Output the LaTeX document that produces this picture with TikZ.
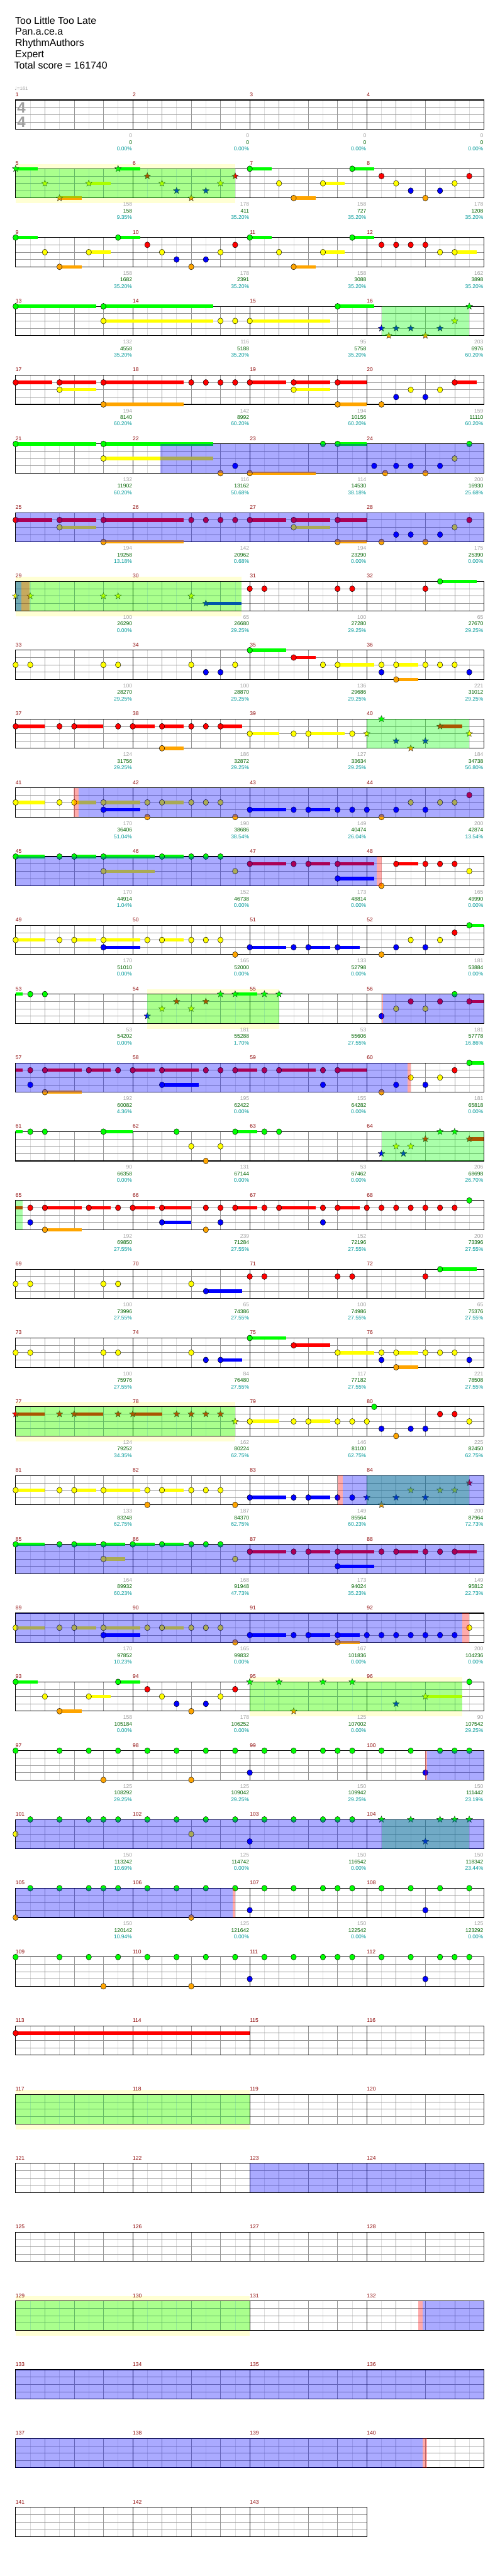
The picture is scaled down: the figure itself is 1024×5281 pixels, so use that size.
\documentclass[tikz,border=0pt]{standalone}
\usepackage{fontspec}
\setmainfont{Liberation Sans}
\newfontfamily\djv{DejaVu Sans}
\usetikzlibrary{shapes.geometric}
\definecolor{lc0}{RGB}{0,255,0}
\definecolor{lc1}{RGB}{255,0,0}
\definecolor{lc2}{RGB}{255,255,0}
\definecolor{lc3}{RGB}{0,0,255}
\definecolor{lc4}{RGB}{255,165,0}
\definecolor{ybg}{RGB}{255,255,212}
\definecolor{mred}{RGB}{139,0,0}
\definecolor{sgray}{RGB}{160,160,160}
\definecolor{sgreen}{RGB}{0,100,0}
\definecolor{steal}{RGB}{0,153,153}
\definecolor{geighth}{RGB}{222,222,222}
\definecolor{gquart}{RGB}{150,150,150}
\newcounter{nc}
\tikzset{
 nt/.style={ellipse,draw=black,line width=0.6pt,minimum width=11,minimum height=12,inner sep=0},
 sn/.style={star,star points=5,star point ratio=2.3,draw=black!85,line width=0.5pt,minimum size=14,inner sep=0},
 ge/.style={draw=geighth,line width=0.8pt},
 gq/.style={draw=gquart,line width=0.9pt},
 gm/.style={draw=black,line width=1pt},
 gb/.style={draw=black,line width=1.4pt},
 small/.style={inner sep=0,font=\fontsize{11}{13}\selectfont},
 mnum/.style={small,text=mred,anchor=west},
 sg/.style={small,text=sgray,anchor=east},
 sgr/.style={small,text=sgreen,anchor=east},
 st/.style={small,text=steal,anchor=east},
 ttl/.style={inner sep=0,anchor=base west,font=\fontsize{20.5}{24}\selectfont},
 tsig/.style={inner sep=0,text=sgray,font=\fontsize{31}{31}\selectfont\bfseries}
}
\newcommand\RowStart[3]{\pgfmathsetmacro\T{205+141*#1}\def\MF{#2}\def\NMe{#3}}
\newcommand\Grid{%
 \pgfmathsetmacro\W{240*\NMe}\pgfmathtruncatemacro\NE{8*\NMe}%
 \foreach \k in {1,3,...,\NE}{\draw[ge] ({32+30*\k},\T) -- ({32+30*\k},{\T+60});}%
 \foreach \l in {1,2,3}{\draw[gq] (32,{\T+15*\l}) -- ({32+\W},{\T+15*\l});}%
 \foreach \k in {2,4,...,\NE}{\draw[gq] ({32+30*\k},\T) -- ({32+30*\k},{\T+60});}%
 \foreach \k in {8,16,...,\NE}{\draw[gm] ({32+30*\k},\T) -- ({32+30*\k},{\T+60});}%
 \draw[gb] (32,\T) rectangle ({32+\W},{\T+60});}
\newcommand\Nums{\pgfmathtruncatemacro\LJ{\NMe-1}%
 \foreach \j in {0,...,\LJ}{\pgfmathtruncatemacro\MN{\MF+\j}\node[mnum] (mn\MN) at ({32+240*\j},{\T-11}) {\MN};}}
\newcommand\Nn[2]{\stepcounter{nc}\node[nt,fill=lc#1] (n\arabic{nc}) at ({32+30*#2},{\T+15*#1}) {};}
\newcommand\Ns[3]{\fill[lc#1] ({32+30*#2},{\T+15*#1-3.5}) rectangle ({32+30*#3},{\T+15*#1+3.5});\Nn{#1}{#2}}
\newcommand\Sn[2]{\stepcounter{nc}\node[sn,fill=lc#1] (n\arabic{nc}) at ({32+30*#2},{\T+15*#1}) {};}
\newcommand\Ss[3]{\fill[lc#1] ({32+30*#2},{\T+15*#1-3.5}) rectangle ({32+30*#3},{\T+15*#1+3.5});\Sn{#1}{#2}}
\newcommand\Cb[3]{\fill[lc#1] ({32+30*#2},{\T+15*#1-3.5}) rectangle ({32+30*#3},{\T+15*#1+3.5});}
\newcommand\Og[2]{\fill[green,opacity=0.333] ({32+30*#1},\T) rectangle ({32+30*#2},{\T+60});}
\newcommand\Ob[2]{\fill[blue,opacity=0.333] ({32+30*#1},\T) rectangle ({32+30*#2},{\T+60});}
\newcommand\Op[2]{\fill[red,opacity=0.333] ({32+30*#1},\T) rectangle ({32+30*#2},{\T+60});}
\newcommand\Yl[2]{\fill[ybg] ({32+30*#1},{\T-10}) rectangle ({32+30*#2},{\T+71});}
\newcommand\Sc[4]{\node[sg] (sa\MF-#1) at ({31+240*(#1+1)},{\T+73}) {#2};
 \node[sgr] (sb\MF-#1) at ({31+240*(#1+1)},{\T+86.5}) {#3};
 \node[st] (sc\MF-#1) at ({31+240*(#1+1)},{\T+100}) {#4};}
\begin{document}
\begin{tikzpicture}[x=1pt,y=-1pt]
\useasboundingbox[fill=white] (0,0) rectangle (1024,5281);
\node[ttl] (t1) at (31,49) {Too Little Too Late};
\node[ttl] (t2) at (31,72) {Pan.a.ce.a};
\node[ttl] (t3) at (31,95) {RhythmAuthors};
\node[ttl] (t4) at (31,118) {Expert};
\node[ttl] (t5) at (29,141) {Total score = 161740};
\node[inner sep=0,anchor=west,text=sgray,font=\fontsize{10}{12}\selectfont] (tempo) at (30,181) {{\djv ♩}=161};
% row 0
\RowStart{0}{1}{4}\Grid
\node[tsig] (ts1) at (44,221) {4};
\node[tsig] (ts2) at (44,250) {4};
\Nums
\Sc{0}{0}{0}{0.00\%}\Sc{1}{0}{0}{0.00\%}\Sc{2}{0}{0}{0.00\%}\Sc{3}{0}{0}{0.00\%}
% row 1
\RowStart{1}{5}{4}\Yl{0}{15}\Grid
\Ss{0}{0}{1.5}\Ss{0}{7}{8.5}\Sn{1}{9}\Sn{1}{15}\Sn{2}{2}\Ss{2}{5}{6.5}\Sn{2}{10}\Sn{2}{14}\Sn{3}{11}\Sn{3}{13}\Ss{4}{3}{4.5}\Sn{4}{12}
\Ns{0}{16}{17.5}\Ns{0}{23}{24.5}\Nn{1}{25}\Nn{1}{31}\Nn{2}{18}\Ns{2}{21}{22.5}\Nn{2}{26}\Nn{2}{30}\Nn{3}{27}\Nn{3}{29}\Ns{4}{19}{20.5}\Nn{4}{28}
\Og{0}{15}\Nums
\Sc{0}{158}{158}{9.35\%}\Sc{1}{178}{411}{35.20\%}\Sc{2}{158}{727}{35.20\%}\Sc{3}{178}{1208}{35.20\%}
% row 2
\RowStart{2}{9}{4}\Grid
\Ns{0}{0}{1.5}\Ns{0}{7}{8.5}\Nn{2}{2}\Ns{2}{5}{6.5}\Ns{4}{3}{4.5}\Nn{1}{9}\Nn{2}{10}\Nn{3}{11}\Nn{4}{12}\Nn{3}{13}\Nn{2}{14}\Nn{1}{15}\Ns{0}{16}{17.5}\Nn{2}{18}\Ns{4}{19}{20.5}\Ns{2}{21}{22.5}\Ns{0}{23}{24.5}\Nn{1}{25}\Nn{1}{26}\Nn{1}{27}\Nn{1}{28}\Nn{2}{29}\Ns{2}{30}{31.5}
\Nums
\Sc{0}{158}{1682}{35.20\%}\Sc{1}{178}{2391}{35.20\%}\Sc{2}{158}{3088}{35.20\%}\Sc{3}{162}{3898}{35.20\%}
% row 3
\RowStart{3}{13}{4}\Grid
\Ns{0}{0}{5.5}\Ns{0}{6}{13.5}\Ns{2}{6}{13.5}\Nn{2}{14}\Nn{2}{15}\Ns{2}{16}{21.5}\Ns{0}{22}{24.5}
\Sn{3}{25}\Sn{3}{26}\Sn{3}{27}\Sn{3}{29}\Sn{4}{25.5}\Sn{4}{28}\Sn{2}{30}\Sn{0}{31}
\Og{25}{31}\Nums
\Sc{0}{132}{4558}{35.20\%}\Sc{1}{116}{5188}{35.20\%}\Sc{2}{95}{5758}{35.20\%}\Sc{3}{203}{6976}{60.20\%}
% row 4
\RowStart{4}{17}{4}\Grid
\Ns{1}{0}{2.5}\Ns{1}{3}{5.5}\Ns{2}{3}{5.5}\Ns{1}{6}{11.5}\Ns{4}{6}{11.5}\Nn{1}{12}\Nn{1}{13}\Nn{1}{14}\Nn{1}{15}\Ns{1}{16}{18.5}\Ns{1}{19}{21.5}\Ns{2}{19}{21.5}\Ns{1}{22}{24}\Ns{4}{22}{24}\Nn{4}{25}\Nn{3}{26}\Nn{2}{27}\Nn{3}{28}\Nn{2}{29}\Ns{1}{30}{31.5}
\Nums
\Sc{0}{194}{8140}{60.20\%}\Sc{1}{142}{8992}{60.20\%}\Sc{2}{194}{10156}{60.20\%}\Sc{3}{159}{11110}{60.20\%}
% row 5
\RowStart{5}{21}{4}\Grid
\Ns{0}{0}{5.5}\Ns{0}{6}{13.5}\Ns{2}{6}{13.5}\Nn{4}{14}\Nn{3}{15}\Ns{4}{16}{20.5}\Nn{0}{21}\Ns{0}{22}{24}\Nn{3}{24.5}\Nn{4}{25.25}\Nn{3}{26}\Nn{3}{27}\Nn{4}{28}\Nn{3}{29}\Nn{2}{30}\Nn{0}{31}
\Ob{9.9}{32}\Nums
\Sc{0}{132}{11902}{60.20\%}\Sc{1}{116}{13162}{50.68\%}\Sc{2}{114}{14530}{38.18\%}\Sc{3}{200}{16930}{25.68\%}
% row 6
\RowStart{6}{25}{4}\Grid
\Ns{1}{0}{2.5}\Ns{1}{3}{5.5}\Ns{2}{3}{5.5}\Ns{1}{6}{11.5}\Ns{4}{6}{11.5}\Nn{1}{12}\Nn{1}{13}\Nn{1}{14}\Nn{1}{15}\Ns{1}{16}{18.5}\Ns{1}{19}{21.5}\Ns{2}{19}{21.5}\Ns{1}{22}{24}\Ns{4}{22}{24}\Nn{4}{25}\Nn{3}{26}\Nn{3}{27}\Nn{4}{28}\Nn{3}{29}\Nn{2}{30}\Nn{1}{31}
\Ob{0}{32}\Nums
\Sc{0}{194}{19258}{13.18\%}\Sc{1}{142}{20962}{0.68\%}\Sc{2}{194}{23290}{0.00\%}\Sc{3}{175}{25390}{0.00\%}
% row 7
\RowStart{7}{29}{4}\Yl{0}{15.45}\Grid
\Sn{2}{0}\Sn{2}{1}\Sn{2}{6}\Sn{2}{7}\Sn{2}{12}\Ss{3}{13}{15.45}
\Nn{1}{16}\Nn{1}{17}\Nn{1}{22}\Nn{1}{23}\Nn{1}{28}\Ns{0}{29}{31.5}
\Og{0}{15.45}\Op{0.4}{0.96}\Ob{0}{0.4}\Nums
\Sc{0}{100}{26290}{0.00\%}\Sc{1}{65}{26680}{29.25\%}\Sc{2}{100}{27280}{29.25\%}\Sc{3}{65}{27670}{29.25\%}
% row 8
\RowStart{8}{33}{4}\Grid
\Nn{2}{0}\Nn{2}{1}\Nn{2}{6}\Nn{2}{7}\Nn{2}{12}\Nn{3}{13}\Nn{3}{14}\Nn{2}{15}\Ns{0}{16}{18.5}\Ns{1}{19}{20.5}\Nn{2}{21}\Ns{2}{22}{24.5}\Nn{2}{25}\Nn{3}{25}\Ns{2}{26}{27.5}\Ns{4}{26}{27.5}\Nn{2}{28}\Nn{2}{29}\Nn{2}{30}\Nn{3}{31}
\Nums
\Sc{0}{100}{28270}{29.25\%}\Sc{1}{100}{28870}{29.25\%}\Sc{2}{136}{29686}{29.25\%}\Sc{3}{221}{31012}{29.25\%}
% row 9
\RowStart{9}{37}{4}\Grid
\Ns{1}{0}{2}\Nn{1}{3}\Ns{1}{4}{6}\Nn{1}{7}\Ns{1}{8}{9.5}\Ns{1}{10}{11.5}\Ns{4}{10}{11.5}\Nn{1}{12}\Nn{1}{13}\Ns{1}{14}{15.5}\Ns{2}{16}{18}\Nn{2}{19}\Ns{2}{20}{22.5}\Nn{2}{23}
\Sn{2}{24}\Sn{0}{25}\Sn{3}{26}\Sn{4}{27}\Sn{3}{28}\Ss{1}{29}{30.5}\Sn{2}{31}
\Og{24}{31}\Nums
\Sc{0}{124}{31756}{29.25\%}\Sc{1}{186}{32872}{29.25\%}\Sc{2}{127}{33634}{29.25\%}\Sc{3}{184}{34738}{56.80\%}
% row 10
\RowStart{10}{41}{4}\Grid
\Ns{2}{0}{2}\Nn{2}{3}\Ns{2}{4}{5.5}\Ns{2}{6}{8.5}\Ns{3}{6}{8.5}\Nn{2}{9}\Nn{4}{9}\Ns{2}{10}{11.5}\Nn{2}{12}\Nn{2}{13}\Nn{2}{14}\Nn{4}{15}\Ns{3}{16}{18.5}\Nn{3}{19}\Ns{3}{20}{21.5}\Nn{3}{22}\Nn{3}{23}\Nn{3}{24}\Nn{4}{25}\Nn{3}{26}\Nn{2}{27}\Nn{3}{28}\Nn{2}{29}\Nn{2}{30}\Nn{1}{31}
\Op{3.98}{4.29}\Ob{4.29}{32}\Nums
\Sc{0}{170}{36406}{51.04\%}\Sc{1}{190}{38686}{38.54\%}\Sc{2}{149}{40474}{26.04\%}\Sc{3}{200}{42874}{13.54\%}
% row 11
\RowStart{11}{45}{4}\Grid
\Ns{0}{0}{2}\Nn{0}{3}\Ns{0}{4}{5.5}\Ns{0}{6}{9.5}\Ns{2}{6}{9.5}\Ns{0}{10}{11.5}\Nn{0}{12}\Nn{0}{13}\Nn{0}{14}\Nn{2}{15}\Ns{1}{16}{18.5}\Nn{1}{19}\Ns{1}{20}{21.5}\Ns{1}{22}{24.5}\Ns{3}{22}{24.5}\Nn{4}{25}\Ns{1}{26}{27.5}\Nn{1}{28}\Nn{1}{29}\Nn{1}{30}\Nn{2}{31}
\Ob{0}{24.66}\Op{24.66}{25}\Nums
\Sc{0}{170}{44914}{1.04\%}\Sc{1}{152}{46738}{0.00\%}\Sc{2}{173}{48814}{0.00\%}\Sc{3}{165}{49990}{0.00\%}
% row 12
\RowStart{12}{49}{4}\Grid
\Ns{2}{0}{2}\Nn{2}{3}\Ns{2}{4}{5.5}\Ns{2}{6}{8.5}\Ns{3}{6}{8.5}\Nn{2}{9}\Ns{2}{10}{11.5}\Nn{2}{12}\Nn{2}{13}\Nn{2}{14}\Nn{4}{15}\Ns{3}{16}{18.5}\Nn{3}{19}\Ns{3}{20}{21.5}\Ns{3}{22}{23.5}\Nn{4}{25}\Nn{3}{26}\Nn{2}{27}\Nn{3}{28}\Nn{2}{29}\Nn{1}{30}\Ns{0}{31}{32}
\Nums
\Sc{0}{170}{51010}{0.00\%}\Sc{1}{165}{52000}{0.00\%}\Sc{2}{133}{52798}{0.00\%}\Sc{3}{181}{53884}{0.00\%}
% row 13
\RowStart{13}{53}{4}\Yl{9}{18}\Grid
\Cb{0}{0}{0.48}\Nn{0}{1}\Nn{0}{2}
\Sn{3}{9}\Sn{2}{10}\Sn{1}{11}\Sn{2}{12}\Sn{1}{13}\Sn{0}{14}\Ss{0}{15}{16.5}\Sn{0}{17}\Sn{0}{18}
\Nn{3}{25}\Nn{2}{26}\Nn{1}{27}\Nn{2}{28}\Nn{1}{29}\Nn{0}{30}\Ns{1}{31}{32}
\Og{9}{18}\Op{25}{25.1}\Ob{25.1}{32}\Nums
\Sc{0}{53}{54202}{0.00\%}\Sc{1}{181}{55288}{1.70\%}\Sc{2}{53}{55606}{27.55\%}\Sc{3}{181}{57778}{16.86\%}
% row 14
\RowStart{14}{57}{4}\Grid
\Cb{1}{0}{0.48}\Nn{1}{1}\Nn{3}{1}\Ns{1}{2}{4.5}\Ns{4}{2}{4.5}\Ns{1}{5}{6.5}\Nn{1}{7}\Ns{1}{8}{9.5}\Ns{1}{10}{12.5}\Ns{3}{10}{12.5}\Nn{1}{13}\Nn{1}{14}\Ns{1}{15}{16.5}\Nn{1}{17}\Ns{1}{18}{20.5}\Nn{1}{21}\Nn{3}{21}\Ns{1}{22}{24}\Nn{4}{25}\Nn{3}{26}\Nn{2}{27}\Nn{3}{28}\Nn{2}{29}\Nn{1}{30}\Ns{0}{31}{32}
\Ob{0}{26.8}\Op{26.8}{27}\Nums
\Sc{0}{192}{60082}{4.36\%}\Sc{1}{195}{62422}{0.00\%}\Sc{2}{155}{64282}{0.00\%}\Sc{3}{181}{65818}{0.00\%}
% row 15
\RowStart{15}{61}{4}\Grid
\Cb{0}{0}{0.48}\Nn{0}{1}\Nn{0}{2}\Ns{0}{6}{8}\Nn{0}{11}\Nn{2}{12}\Nn{4}{13}\Nn{2}{14}\Ns{0}{15}{16.5}\Nn{0}{17}\Nn{0}{18}
\Sn{3}{25}\Sn{2}{26}\Sn{3}{26.5}\Sn{2}{27}\Sn{1}{28}\Sn{0}{29}\Sn{0}{30}\Ss{1}{31}{32}
\Og{25}{32}\Nums
\Sc{0}{90}{66358}{0.00\%}\Sc{1}{131}{67144}{0.00\%}\Sc{2}{53}{67462}{0.00\%}\Sc{3}{206}{68698}{26.70\%}
% row 16
\RowStart{16}{65}{4}\Grid
\Cb{1}{0}{0.48}\Nn{1}{1}\Nn{3}{1}\Ns{1}{2}{4.5}\Ns{4}{2}{4.5}\Ns{1}{5}{6.5}\Nn{1}{7}\Ns{1}{8}{9.5}\Ns{1}{10}{12}\Ns{3}{10}{12}\Nn{1}{13}\Nn{4}{13}\Nn{1}{14}\Nn{3}{14}\Ns{1}{15}{16.5}\Nn{1}{17}\Ns{1}{18}{20.5}\Nn{1}{21}\Nn{3}{21}\Ns{1}{22}{23.5}\Nn{1}{24}\Nn{1}{25}\Nn{1}{26}\Nn{1}{27}\Nn{1}{28}\Nn{1}{29}\Nn{1}{30}\Nn{0}{31}
\Og{0}{0.48}\Nums
\Sc{0}{192}{69850}{27.55\%}\Sc{1}{239}{71284}{27.55\%}\Sc{2}{152}{72196}{27.55\%}\Sc{3}{200}{73396}{27.55\%}
% row 17
\RowStart{17}{69}{4}\Grid
\Nn{2}{0}\Nn{2}{1}\Nn{2}{6}\Nn{2}{7}\Nn{2}{12}\Ns{3}{13}{15.5}\Nn{1}{16}\Nn{1}{17}\Nn{1}{22}\Nn{1}{23}\Nn{1}{28}\Ns{0}{29}{31.5}
\Nums
\Sc{0}{100}{73996}{27.55\%}\Sc{1}{65}{74386}{27.55\%}\Sc{2}{100}{74986}{27.55\%}\Sc{3}{65}{75376}{27.55\%}
% row 18
\RowStart{18}{73}{4}\Grid
\Nn{2}{0}\Nn{2}{1}\Nn{2}{6}\Nn{2}{7}\Nn{2}{12}\Nn{3}{13}\Ns{3}{14}{15.5}\Ns{0}{16}{18.5}\Ns{1}{19}{21.5}\Ns{2}{22}{24.5}\Nn{2}{25}\Nn{3}{25}\Ns{2}{26}{27.5}\Ns{4}{26}{27.5}\Nn{2}{28}\Nn{2}{29}\Nn{2}{30}\Nn{3}{31}
\Nums
\Sc{0}{100}{75976}{27.55\%}\Sc{1}{84}{76480}{27.55\%}\Sc{2}{117}{77182}{27.55\%}\Sc{3}{221}{78508}{27.55\%}
% row 19
\RowStart{19}{77}{4}\Yl{0}{15}\Grid
\Ss{1}{0}{2}\Sn{1}{3}\Ss{1}{4}{6}\Sn{1}{7}\Ss{1}{8}{10}\Sn{1}{11}\Sn{1}{12}\Sn{1}{13}\Sn{1}{14}\Sn{2}{15}
\Ns{2}{16}{18}\Nn{2}{19}\Ns{2}{20}{21.5}\Nn{2}{22}\Nn{2}{23}\Nn{2}{24}\Nn{0}{24.5}\Nn{3}{25}\Nn{4}{26}\Nn{3}{27}\Nn{3}{28}\Nn{1}{29}\Nn{1}{30}\Nn{2}{31}
\Og{0}{15}\Nums
\Sc{0}{124}{79252}{34.35\%}\Sc{1}{162}{80224}{62.75\%}\Sc{2}{146}{81100}{62.75\%}\Sc{3}{225}{82450}{62.75\%}
% row 20
\RowStart{20}{81}{4}\Grid
\Ns{2}{0}{2}\Nn{2}{3}\Ns{2}{4}{5.5}\Ns{2}{6}{8.5}\Nn{2}{9}\Nn{4}{9}\Ns{2}{10}{11.5}\Nn{2}{12}\Nn{2}{13}\Nn{2}{14}\Nn{4}{15}\Ns{3}{16}{18.5}\Nn{3}{19}\Ns{3}{20}{21.5}\Nn{3}{22}\Nn{3}{23}
\Sn{3}{24}\Sn{4}{25}\Sn{3}{26}\Sn{2}{27}\Sn{3}{28}\Sn{2}{29}\Sn{2}{30}\Sn{1}{31}
\Og{24}{31}\Op{22}{22.35}\Ob{22.35}{32}\Nums
\Sc{0}{133}{83248}{62.75\%}\Sc{1}{187}{84370}{62.75\%}\Sc{2}{149}{85564}{60.23\%}\Sc{3}{200}{87964}{72.73\%}
% row 21
\RowStart{21}{85}{4}\Grid
\Ns{0}{0}{2}\Nn{0}{3}\Ns{0}{4}{5.5}\Ns{0}{6}{7.5}\Ns{2}{6}{7.5}\Ns{0}{8}{9.5}\Ns{0}{10}{11.5}\Nn{0}{12}\Nn{0}{13}\Nn{0}{14}\Nn{2}{15}\Ns{1}{16}{18.5}\Nn{1}{19}\Ns{1}{20}{21.5}\Ns{1}{22}{24.5}\Ns{3}{22}{24.5}\Nn{1}{25}\Ns{1}{26}{27.5}\Nn{1}{28}\Nn{1}{29}\Ns{1}{30}{31.5}
\Ob{0}{32}\Nums
\Sc{0}{164}{89932}{60.23\%}\Sc{1}{168}{91948}{47.73\%}\Sc{2}{173}{94024}{35.23\%}\Sc{3}{149}{95812}{22.73\%}
% row 22
\RowStart{22}{89}{4}\Grid
\Ns{2}{0}{2}\Nn{2}{3}\Ns{2}{4}{5.5}\Ns{2}{6}{8.5}\Ns{3}{6}{8.5}\Nn{2}{9}\Ns{2}{10}{11.5}\Nn{2}{12}\Nn{2}{13}\Nn{2}{14}\Nn{4}{15}\Ns{3}{16}{18.5}\Nn{3}{19}\Ns{3}{20}{21.5}\Ns{3}{22}{23.5}\Ns{4}{22}{23.5}\Nn{3}{24}\Nn{3}{25}\Nn{3}{26}\Nn{3}{27}\Nn{3}{28}\Nn{3}{29}\Nn{3}{30}\Nn{2}{31}
\Ob{0}{30.5}\Op{30.5}{31}\Nums
\Sc{0}{170}{97852}{10.23\%}\Sc{1}{165}{99832}{0.00\%}\Sc{2}{167}{101836}{0.00\%}\Sc{3}{200}{104236}{0.00\%}
% row 23
\RowStart{23}{93}{4}\Yl{16}{30.5}\Grid
\Ns{0}{0}{1.5}\Nn{2}{2}\Ns{4}{3}{4.5}\Ns{2}{5}{6.5}\Ns{0}{7}{8.5}\Nn{1}{9}\Nn{2}{10}\Nn{3}{11}\Nn{4}{12}\Nn{3}{13}\Nn{2}{14}\Nn{1}{15}
\Sn{0}{16}\Sn{0}{18}\Sn{4}{19}\Sn{0}{21}\Sn{0}{23}\Sn{3}{26}\Ss{2}{28}{30.5}
\Nn{0}{31}
\Og{16}{30.5}\Nums
\Sc{0}{158}{105184}{0.00\%}\Sc{1}{178}{106252}{0.00\%}\Sc{2}{125}{107002}{0.00\%}\Sc{3}{90}{107542}{29.25\%}
% row 24
\RowStart{24}{97}{4}\Grid
\Nn{0}{0}\Nn{0}{3}\Nn{0}{5}\Nn{4}{6}\Nn{0}{7}\Nn{0}{9}\Nn{0}{11}\Nn{4}{12}\Nn{0}{13}\Nn{0}{15}\Nn{3}{16}\Nn{0}{17}\Nn{0}{19}\Nn{0}{21}\Nn{0}{22}\Nn{0}{23}\Nn{0}{25}\Nn{0}{27}\Nn{3}{28}\Nn{0}{29}\Nn{0}{30}\Nn{0}{31}
\Op{28}{28.1}\Ob{28.1}{32}\Nums
\Sc{0}{125}{108292}{29.25\%}\Sc{1}{125}{109042}{29.25\%}\Sc{2}{150}{109942}{29.25\%}\Sc{3}{150}{111442}{23.19\%}
% row 25
\RowStart{25}{101}{4}\Grid
\Nn{2}{0}\Nn{0}{1}\Nn{0}{3}\Nn{0}{5}\Nn{0}{6}\Nn{0}{7}\Nn{0}{9}\Nn{0}{11}\Nn{2}{12}\Nn{0}{13}\Nn{0}{15}\Nn{3}{16}\Nn{0}{17}\Nn{0}{19}\Nn{0}{21}\Nn{0}{22}\Nn{0}{23}
\Sn{0}{25}\Sn{0}{27}\Sn{3}{28}\Sn{0}{29}\Sn{0}{30}\Sn{0}{31}
\Og{25}{31}\Ob{0}{32}\Nums
\Sc{0}{150}{113242}{10.69\%}\Sc{1}{125}{114742}{0.00\%}\Sc{2}{150}{116542}{0.00\%}\Sc{3}{150}{118342}{23.44\%}
% row 26
\RowStart{26}{105}{4}\Grid
\Nn{4}{0}\Nn{0}{1}\Nn{0}{3}\Nn{0}{5}\Nn{0}{6}\Nn{0}{7}\Nn{0}{9}\Nn{0}{11}\Nn{4}{12}\Nn{0}{13}\Nn{0}{15}\Nn{3}{16}\Nn{0}{17}\Nn{0}{19}\Nn{0}{21}\Nn{0}{22}\Nn{0}{23}\Nn{0}{25}\Nn{0}{27}\Nn{3}{28}\Nn{0}{29}\Nn{0}{31}
\Ob{0}{14.82}\Op{14.82}{15}\Nums
\Sc{0}{150}{120142}{10.94\%}\Sc{1}{125}{121642}{0.00\%}\Sc{2}{150}{122542}{0.00\%}\Sc{3}{125}{123292}{0.00\%}
% row 27
\RowStart{27}{109}{4}\Grid
\Nn{0}{0}\Nn{0}{3}\Nn{0}{5}\Nn{4}{6}\Nn{0}{7}\Nn{0}{9}\Nn{0}{11}\Nn{4}{12}\Nn{0}{13}\Nn{0}{15}\Nn{3}{16}\Nn{0}{17}\Nn{0}{19}\Nn{0}{21}\Nn{0}{22}\Nn{0}{23}\Nn{0}{25}\Nn{0}{27}\Nn{3}{28}\Nn{0}{29}\Nn{0}{30}\Nn{0}{31}
\Nums
% row 28
\RowStart{28}{113}{4}\Grid
\Ns{1}{0}{16}
\Nums
% row 29
\RowStart{29}{117}{4}\Yl{0}{16}\Grid
\Og{0}{16}\Nums
% row 30
\RowStart{30}{121}{4}\Grid
\Ob{16}{32}\Nums
% row 31
\RowStart{31}{125}{4}\Grid\Nums
% row 32
\RowStart{32}{129}{4}\Yl{0}{16}\Grid
\Og{0}{16}\Op{27.5}{27.8}\Ob{27.8}{32}\Nums
% row 33
\RowStart{33}{133}{4}\Grid
\Ob{0}{32}\Nums
% row 34
\RowStart{34}{137}{4}\Grid
\Ob{0}{27.8}\Op{27.8}{28.1}\Nums
% row 35
\RowStart{35}{141}{3}\Grid\Nums
\end{tikzpicture}
\end{document}
